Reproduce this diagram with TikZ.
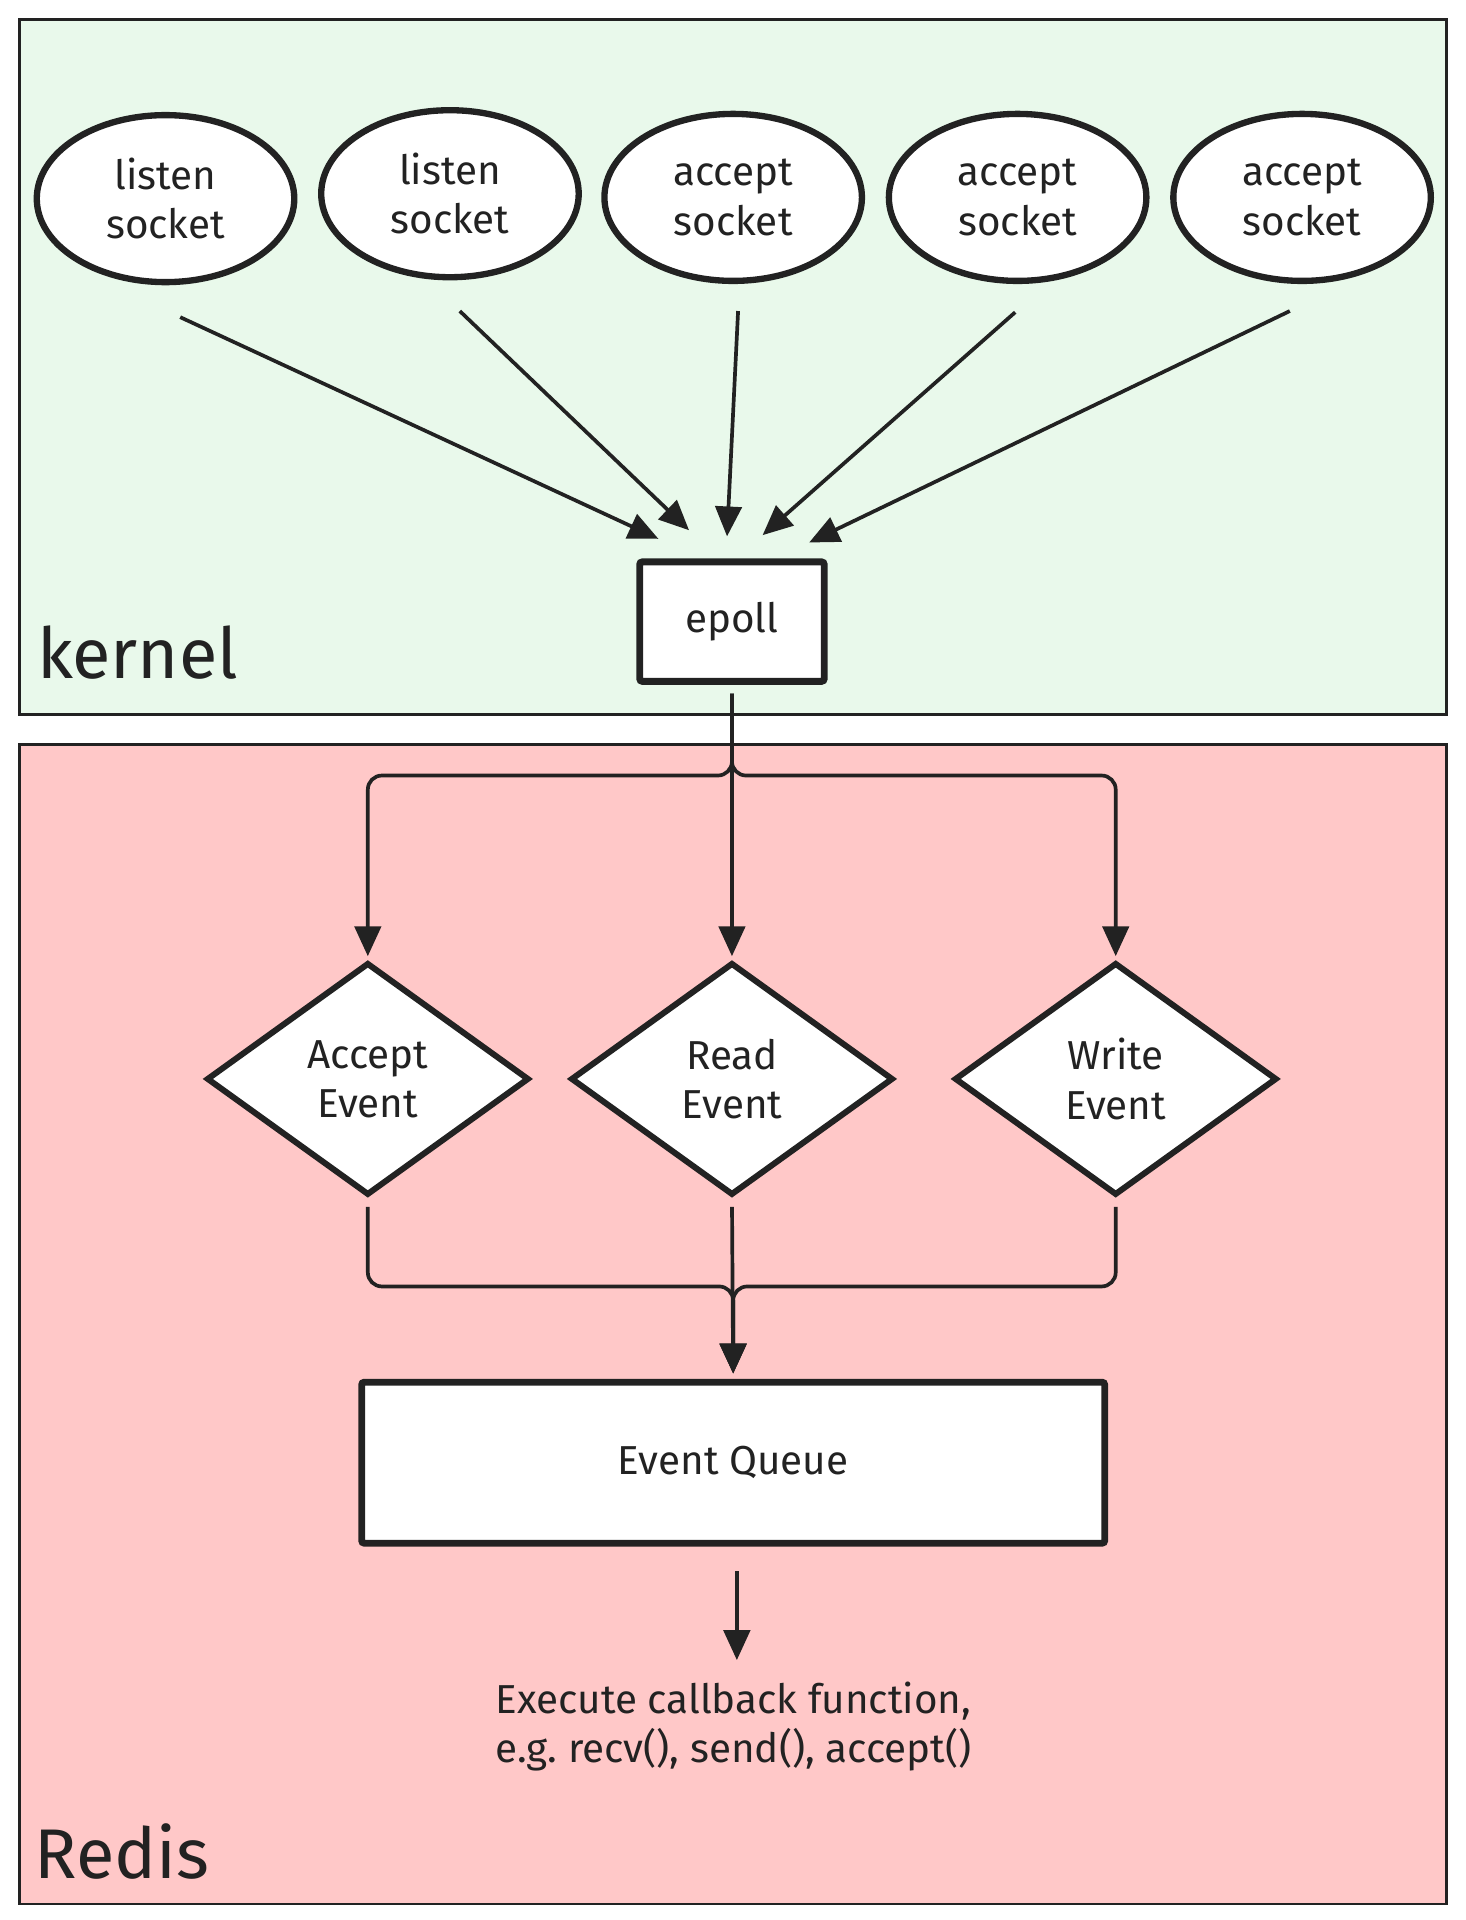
\documentclass[tikz,border=0pt]{standalone}
\usepackage{fontspec}
\setmainfont{Fira Sans}
\usetikzlibrary{shapes.geometric,arrows.meta}
\definecolor{kernelgreen}{HTML}{E9F9EB}
\definecolor{redispink}{HTML}{FFC8C8}
\definecolor{ink}{HTML}{222222}
\newcommand\diagfont{\fontsize{23}{28}\selectfont}
\newcommand\areafont{\fontsize{40}{48}\selectfont}
\tikzset{
  frame/.style={draw=ink,line width=1.5pt},
  area/.style={anchor=base west,inner sep=0pt,text=ink,font=\areafont},
  sock/.style={ellipse,draw=ink,fill=white,line width=3.6pt,minimum width=5.15cm,
    minimum height=3.34cm,align=center,text=ink,font=\diagfont},
  pollbox/.style={rectangle,draw=ink,fill=white,line width=3.9pt,rounded corners=1.5pt,
    minimum width=3.69cm,minimum height=2.39cm,text=ink,font=\diagfont},
  evt/.style={diamond,draw=ink,fill=white,line width=3.4pt,minimum width=6.45cm,
    minimum height=4.65cm,align=center,text=ink,font=\diagfont},
  queuebox/.style={rectangle,draw=ink,fill=white,line width=3.9pt,rounded corners=1.5pt,
    minimum width=14.86cm,minimum height=3.22cm,text=ink,font=\diagfont},
  arr/.style={draw=ink,line width=2.1pt,-{Triangle[length=17pt,width=15pt]}},
}
\begin{document}
\begin{tikzpicture}[x=0.024518cm,y=-0.024518cm]
  \useasboundingbox (0,0) rectangle (1195,1566);
  %kernel
  \filldraw[frame,fill=kernelgreen] (16,16) rectangle (1180,583);
  \node[area] (kernel) at (30,553) {kernel};
  %Redis
  \filldraw[frame,fill=redispink] (16,607) rectangle (1180,1553);
  \node[area] (redis) at (28,1532) {Redis};

  \node[sock] (s1) at (135,162) {listen\\socket};
  \node[sock] (s2) at (367,158) {listen\\socket};
  \node[sock] (s3) at (598,161) {accept\\socket};
  \node[sock] (s4) at (830,161) {accept\\socket};
  \node[sock] (s5) at (1062,161) {accept\\socket};
  \node[pollbox] (ep) at (597,507) {epoll};

  \draw[arr] ([shift={(12,26)}]s1.south) -- ([shift={(-60,-16)}]ep.north);
  \draw[arr] ([shift={(8,25)}]s2.south) -- ([shift={(-35,-23)}]ep.north);
  \draw[arr] ([shift={(4,22)}]s3.south) -- ([shift={(-4,-18)}]ep.north);
  \draw[arr] ([shift={(-2,23)}]s4.south) -- ([shift={(25,-19)}]ep.north);
  \draw[arr] ([shift={(-10,22)}]s5.south) -- ([shift={(63,-13)}]ep.north);

  \node[evt] (acc) at (300,880) {Accept\\Event};
  \node[evt] (rd) at (597,880) {Read\\Event};
  \node[evt] (wr) at (910,880) {Write\\Event};

  \draw[arr,shorten <=5pt,shorten >=2pt] (ep.south) -- (rd.north);
  \draw[arr,rounded corners=8pt,shorten <=5pt,shorten >=2pt] (ep.south) -- ++(0,74) -| (acc.north);
  \draw[arr,rounded corners=8pt,shorten <=5pt,shorten >=2pt] (ep.south) -- ++(0,74) -| (wr.north);

  \node[queuebox] (eq) at (598,1193) {Event Queue};

  \draw[arr,shorten <=5pt,shorten >=3pt] (rd.south) -- (eq.north);
  \draw[arr,rounded corners=8pt,shorten <=5pt,shorten >=3pt] (acc.south) -- ++(0,72) -| (eq.north);
  \draw[arr,rounded corners=8pt,shorten <=5pt,shorten >=3pt] (wr.south) -- ++(0,72) -| (eq.north);

  \node[align=left,anchor=west,inner sep=0pt,text=ink,font=\diagfont] (cb) at (404,1408)
    {Execute callback function,\\e.g.\ recv(), send(), accept()};
  \coordinate (cbtip) at (601,1354);
  \draw[arr] (cbtip |- eq.south) ++(0,20) -- (cbtip);
\end{tikzpicture}
\end{document}
